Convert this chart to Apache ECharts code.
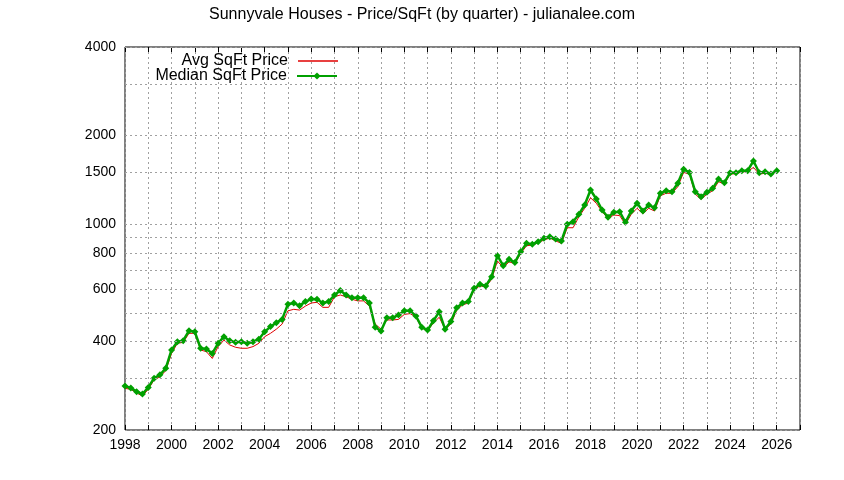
<!DOCTYPE html>
<html>
<head>
	<meta charset="utf-8" />
	<title>Sunnyvale Houses - Price/SqFt</title>
	<script src="https://cdn.jsdelivr.net/npm/echarts@6/dist/echarts.min.js"></script>
	<style>
		html, body { margin: 0; padding: 0; background: #fff; }
		#main { width: 844px; height: 480px; }
	</style>
</head>
<body>
	<div id="main"></div>
	<script type="text/javascript">
		// quarterly values, 1998 Q1 .. 2026 Q1
		var avgPrice = [
			277, 275, 267, 261,   275, 296, 303, 318,   364, 394, 397, 426,   426, 374, 369, 350,
			384, 404, 389, 382,   379, 379, 384, 394,   415, 426, 440, 458,   508, 514, 511, 527,
			540, 543, 522, 522,   567, 575, 567, 556,   549, 549, 527, 458,   440, 473, 473, 475,
			494, 497, 483, 444,   435, 462, 483, 440,   458, 510, 532, 540,   598, 618, 612, 650,
			750, 712, 745, 735,   795, 845, 850, 865,   884, 898, 878, 861,   973, 973, 1060, 1133,
			1230, 1178, 1103, 1047, 1075, 1070, 999, 1081, 1133, 1085, 1133, 1109, 1250, 1274, 1274, 1341,
			1500, 1480, 1265, 1215, 1265, 1300, 1395, 1370, 1480, 1485, 1505, 1510, 1560, 1480, 1490, 1475,
			1510
		];
		var medianPrice = [
			282, 278, 270, 265,   279, 300, 308, 324,   374, 399, 402, 435,   431, 379, 377, 364,
			394, 415, 402, 397,   399, 394, 399, 407,   431, 449, 463, 475,   535, 540, 529, 546,
			557, 556, 540, 546,   575, 595, 575, 563,   563, 563, 540, 447,   434, 481, 481, 492,
			508, 508, 488, 447,   437, 470, 504, 440,   467, 520, 540, 546,   606, 625, 617, 663,
			782, 723, 760, 742,   807, 861, 855, 872,   896, 907, 891, 877,   1000, 1020, 1081, 1162,
			1307, 1218, 1118, 1056, 1098, 1103, 1015, 1109, 1178, 1109, 1162, 1138, 1274, 1300, 1290, 1377,
			1537, 1500, 1290, 1240, 1284, 1324, 1424, 1384, 1496, 1496, 1520, 1520, 1640, 1496, 1508, 1481,
			1520
		];
		var yGrid = [200, 300, 400, 500, 600, 700, 800, 900, 1000, 1500, 2000, 3000, 4000];
		var yLabels = [200, 400, 600, 800, 1000, 1500, 2000, 4000];

		var quarters = avgPrice.map(function (v, i) { return 1998 + i * 0.25; });
		var avgData = avgPrice.map(function (v, i) { return [quarters[i], v]; });
		var medData = medianPrice.map(function (v, i) { return [quarters[i], v]; });

		var font = "'Liberation Sans', Arial, sans-serif";
		var gridDash = { color: '#a0a0a0', width: 1, type: [2, 3] };
		var legendText = { fontFamily: font, fontSize: 16, color: '#000', padding: [0, 5, 0, 0] };

		var xCommon = {
			type: 'value',
			min: 1998,
			max: 2027,
			interval: 1,
			axisLine: { show: false },
			axisTick: { show: true, inside: true, length: 5, lineStyle: { color: '#000' } }
		};

		var myChart = echarts.init(document.getElementById('main'));
		var option = {
			backgroundColor: '#fff',
			animation: false,
			textStyle: { fontFamily: font },
			title: {
				text: 'Sunnyvale Houses - Price/SqFt (by quarter) - julianalee.com',
				left: 'center',
				top: 2,
				textStyle: { fontFamily: font, fontSize: 16, fontWeight: 'normal', color: '#000' }
			},
			legend: [{
				data: [{ name: 'Avg SqFt Price', icon: 'rect' }],
				right: 501,
				top: 48,
				align: 'right',
				itemWidth: 40,
				itemHeight: 1.3,
				textStyle: legendText
			}, {
				data: ['Median SqFt Price'],
				right: 501,
				top: 63,
				align: 'right',
				itemWidth: 40,
				itemHeight: 9,
				textStyle: legendText
			}],
			grid: {
				left: 125, right: 44, top: 47, bottom: 50,
				show: true, borderColor: '#000', borderWidth: 1
			},
			xAxis: [
				Object.assign({}, xCommon, {
					position: 'bottom',
					splitLine: { show: true, lineStyle: gridDash },
					axisLabel: {
						fontFamily: font, fontSize: 14, color: '#000', margin: 8,
						formatter: function (v) { return v % 2 === 0 ? String(v) : ''; }
					}
				}),
				Object.assign({}, xCommon, {
					position: 'top',
					splitLine: { show: false },
					axisLabel: { show: false }
				})
			],
			yAxis: {
				type: 'log',
				logBase: 10,
				min: 200,
				max: 4000,
				axisLine: { show: false },
				axisTick: { show: false },
				axisLabel: { show: false },
				splitLine: { show: false }
			},
			series: [{
				name: 'Avg SqFt Price',
				type: 'line',
				data: avgData,
				showSymbol: false,
				symbol: 'none',
				z: 2,
				lineStyle: { color: '#e00000', width: 1 },
				itemStyle: { color: '#e00000' },
				markLine: {
					silent: true,
					symbol: 'none',
					animation: false,
					lineStyle: gridDash,
					label: {
						show: true,
						position: 'start',
						distance: 9,
						fontFamily: font,
						fontSize: 14,
						color: '#000',
						formatter: function (p) {
							return yLabels.indexOf(p.value) >= 0 ? String(p.value) : '';
						}
					},
					data: yGrid.map(function (v) { return { yAxis: v }; })
				}
			}, {
				name: 'Median SqFt Price',
				type: 'line',
				data: medData,
				symbol: 'diamond',
				symbolSize: 7,
				z: 3,
				lineStyle: { color: '#00a000', width: 2.5 },
				itemStyle: { color: '#00a000' }
			}]
		};
		myChart.setOption(option);
	</script>
</body>
</html>
